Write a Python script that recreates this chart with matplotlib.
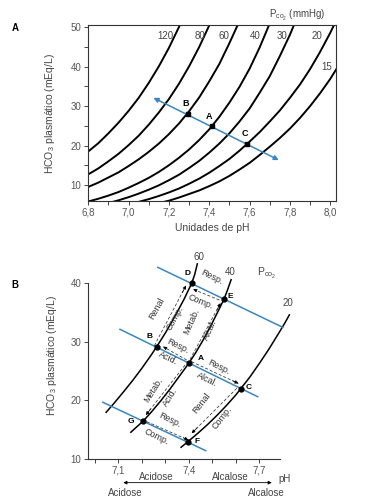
import numpy as np
import matplotlib
matplotlib.use('Agg')
import matplotlib.pyplot as plt
from matplotlib.ticker import FixedLocator, FixedFormatter

plt.rcParams['font.family'] = ['Liberation Sans', 'DejaVu Sans']
plt.rcParams['mathtext.fontset'] = 'custom'
plt.rcParams['mathtext.rm'] = 'Liberation Sans'
plt.rcParams['mathtext.it'] = 'Liberation Sans:italic'
plt.rcParams['mathtext.bf'] = 'Liberation Sans:bold'

nan = np.nan

# ---- panel A: Pco2 isobars, HCO3 every 0.05 pH ----
ph_a = [6.80, 6.85, 6.90, 6.95, 7.00, 7.05, 7.10, 7.15, 7.20, 7.25, 7.30, 7.35, 7.40,
        7.45, 7.50, 7.55, 7.60, 7.65, 7.70, 7.75, 7.80, 7.85, 7.90, 7.95, 8.00, 8.05]
pco2_a = ['120', '80', '60', '40', '30', '20', '15']
hco3_120 = [18.5, 20.6, 23.1, 25.8, 28.8, 32.1, 35.9, 40.1, 44.8, 50.1, 56.3] + [nan] * 15
hco3_80 = [12.7, 14.2, 16.0, 17.9, 20.1, 22.5, 25.3, 28.4, 31.8, 35.7, 40.1, 45.0, 50.5,
           56.6] + [nan] * 12
hco3_60 = [9.5, 10.6, 11.9, 13.2, 14.8, 16.5, 18.4, 20.5, 22.9, 25.6, 28.7, 32.2, 36.3,
           40.7, 46.0, 51.6] + [nan] * 10
hco3_40 = [5.8, 6.5, 7.3, 8.2, 9.3, 10.5, 11.8, 13.3, 15.0, 16.9, 19.0, 21.4, 24.1, 27.3,
           30.9, 34.9, 39.5, 44.9, 51.0] + [nan] * 7
hco3_30 = [nan] * 2 + [5.4, 6.1, 6.9, 7.8, 8.8, 9.9, 11.2, 12.6, 14.3, 16.1, 18.2, 20.5,
                       23.1, 26.1, 29.4, 33.4, 37.6, 42.7, 48.1, 54.3] + [nan] * 4
hco3_20 = [nan] * 5 + [5.7, 6.4, 7.2, 8.1, 9.1, 10.3, 11.6, 13.1, 14.8, 16.6, 18.7, 21.0,
                       23.4, 26.1, 28.9, 32.1, 35.5, 39.4, 43.8, 48.6, 53.9]
hco3_15 = [nan] * 7 + [5.4, 6.0, 6.8, 7.7, 8.6, 9.7, 10.9, 12.3, 13.9, 15.6, 17.6, 19.7,
                       21.9, 24.3, 27.0, 30.0, 33.3, 36.9, 41.0]
curves_a = [hco3_120, hco3_80, hco3_60, hco3_40, hco3_30, hco3_20, hco3_15]

pts_a_names = ['B', 'A', 'C']
pts_a_ph = [7.294, 7.414, 7.588]
pts_a_hco3 = [28.0, 24.9, 20.4]
line_a_ph = [7.123, 7.745]
line_a_hco3 = [32.1, 16.3]

# ---- panel B: schematic ----
ph_b60 = [7.048, 7.08, 7.12, 7.16, 7.20, 7.24, 7.263, 7.30, 7.34, 7.38, 7.412, 7.425, 7.436]
hco3_b60 = [17.97, 19.44, 21.36, 23.36, 25.48, 27.76, 29.16, 31.5, 34.3, 37.3, 39.98, 41.5, 43.3]
ph_b40 = [7.153, 7.18, 7.206, 7.24, 7.28, 7.32, 7.36, 7.40, 7.43, 7.46, 7.49, 7.52, 7.55,
          7.565, 7.58]
hco3_b40 = [14.56, 15.55, 16.48, 18.0, 19.9, 21.95, 24.15, 26.35, 28.2, 30.25, 32.45, 34.85,
            37.3, 38.9, 40.6]
ph_b20 = [7.367, 7.395, 7.44, 7.48, 7.52, 7.56, 7.60, 7.621, 7.66, 7.70, 7.74, 7.78, 7.81, 7.828]
hco3_b20 = [12.0, 12.92, 14.45, 15.89, 17.45, 19.13, 20.93, 22.0, 24.0, 26.3, 28.7, 31.3,
            33.3, 34.6]

blue_b_ph = [(7.268, 7.80), (7.107, 7.693), (7.034, 7.472)]
blue_b_hco3 = [(42.71, 32.47), (32.13, 20.63), (19.68, 11.42)]

pts_b_names = ['D', 'E', 'B', 'A', 'C', 'G', 'F']
pts_b_ph = [7.412, 7.550, 7.263, 7.400, 7.621, 7.206, 7.395]
pts_b_hco3 = [39.98, 37.25, 29.16, 26.33, 22.0, 16.48, 12.95]

# dashed transitions (start -> end)
arrows_b = [((7.253, 29.33), (7.388, 39.6)),
            ((7.530, 37.13), (7.419, 38.96)),
            ((7.405, 27.0), (7.535, 36.6)),
            ((7.391, 26.89), (7.291, 29.16)),
            ((7.412, 26.6), (7.611, 22.9)),
            ((7.384, 26.04), (7.217, 17.5)),
            ((7.221, 16.37), (7.398, 13.24)),
            ((7.604, 22.06), (7.412, 14.39))]

blue = '#3a86bf'
grey = '#555555'

fig = plt.figure(figsize=(3.67, 5.03), dpi=100)

# ================= panel A =================
ax = fig.add_axes([0.2406, 0.601, 0.6736, 0.3487])
for h in curves_a:
    ax.plot(ph_a, h, color='k', lw=1.4, solid_joinstyle='round')
ax.set_xlim(6.8, 8.026)
ax.set_ylim(6, 50.5)

xt = [6.8, 7.0, 7.2, 7.4, 7.6, 7.8, 8.0]
ax.xaxis.set_major_locator(FixedLocator(xt))
ax.xaxis.set_major_formatter(FixedFormatter([('%.1f' % v).replace('.', ',') for v in xt]))
ax.xaxis.set_minor_locator(FixedLocator([6.9, 7.1, 7.3, 7.5, 7.7, 7.9]))
ax.yaxis.set_major_locator(FixedLocator([10, 20, 30, 40, 50]))
ax.yaxis.set_minor_locator(FixedLocator([15, 25, 35, 45]))
ax.tick_params(which='both', direction='out', length=3, width=0.7, color='#444',
               labelsize=7, labelcolor=grey, pad=2)
for s in ax.spines.values():
    s.set_linewidth(0.8)
    s.set_color('#333')

ax.annotate('', xy=(line_a_ph[1], line_a_hco3[1]), xytext=(line_a_ph[0], line_a_hco3[0]),
            arrowprops=dict(arrowstyle='<|-|>', color=blue, lw=1.1, mutation_scale=7,
                            shrinkA=0, shrinkB=0))
ax.plot(pts_a_ph, pts_a_hco3, 's', color='k', ms=3.2, zorder=5)
for n, x, y in zip(pts_a_names, pts_a_ph, pts_a_hco3):
    ax.annotate(n, (x, y), xytext=(-2, 7.2), textcoords='offset points', ha='center',
                va='center', fontsize=6.5, fontweight='bold')

lab_pos_a = [(7.18, 47.9), (7.352, 47.9), (7.475, 47.9), (7.629, 47.9),
             (7.762, 47.9), (7.936, 47.9), (7.982, 39.9)]
for t, (x, y) in zip(pco2_a, lab_pos_a):
    ax.text(x, y, t, fontsize=7, color='#444', ha='center', va='center')
ax.text(7.694, 53.0, r'P$_{\mathregular{co}_2}$ (mmHg)', fontsize=7, color='#444',
        ha='left', va='center')
ax.set_xlabel('Unidades de pH', fontsize=7.5, color='#444', labelpad=4)
ax.set_ylabel(r'HCO$_3$ plasmático (mEq/L)', fontsize=7.5, color='#444', labelpad=10)
fig.text(15 / 367, 1 - 28 / 503, 'A', fontsize=7, fontweight='bold', ha='center', va='center')

# ================= panel B =================
bx = fig.add_axes([0.2406, 0.0875, 0.5223, 0.4135])
bx.set_xlim(6.972, 7.788)
bx.set_ylim(10, 45.5)
for ph, h in [(ph_b60, hco3_b60), (ph_b40, hco3_b40), (ph_b20, hco3_b20)]:
    bx.plot(ph, h, color='k', lw=1.1, clip_on=False, solid_joinstyle='round')
for px, py in zip(blue_b_ph, blue_b_hco3):
    bx.plot(px, py, color=blue, lw=1.1, clip_on=False)

for (x0, y0), (x1, y1) in arrows_b:
    bx.plot([x0, x1], [y0, y1], color='#333', lw=0.55, dashes=(4, 2.5))
    bx.annotate('', xy=(x1, y1), xytext=(x1 - 0.12 * (x1 - x0), y1 - 0.12 * (y1 - y0)),
                arrowprops=dict(arrowstyle='-|>', color='k', lw=0.5, mutation_scale=5,
                                shrinkA=0, shrinkB=0))

bx.plot(pts_b_ph, pts_b_hco3, 'o', color='k', ms=3.5, zorder=5)
offs_b = [(-2.9, 7.2), (4.3, 1.9), (-5.3, 7.7), (8.9, 3.6), (5.5, 1.2), (-9.1, -0.5), (6.5, 0)]
for n, x, y, o in zip(pts_b_names, pts_b_ph, pts_b_hco3, offs_b):
    bx.annotate(n, (x, y), xytext=o, textcoords='offset points', ha='center',
                va='center', fontsize=6, fontweight='bold')

texts_b = [('Renal', 7.263, 35.72, 61), ('Comp.', 7.341, 34.01, 61),
           ('Resp.', 7.497, 41.11, -26), ('Comp.', 7.448, 36.84, -22),
           ('Metab.', 7.412, 33.43, 66), ('Alcal.', 7.490, 32.01, 66),
           ('Resp.', 7.355, 29.28, -26), ('Acid.', 7.313, 27.18, -26),
           ('Resp.', 7.526, 25.75, -26), ('Alcal.', 7.476, 23.48, -26),
           ('Metab.', 7.249, 21.77, 58), ('Acid.', 7.320, 20.63, 58),
           ('Renal', 7.455, 19.51, 52), ('Comp.', 7.540, 16.95, 52),
           ('Resp.', 7.320, 16.66, -26), ('Comp.', 7.263, 13.81, -26)]
for t, x, y, r in texts_b:
    bx.text(x, y, t, fontsize=6.5, color='#333', rotation=r, ha='center', va='center',
            rotation_mode='anchor')

for t, x, y in [('60', 7.445, 44.42), ('40', 7.575, 41.96), ('20', 7.823, 36.57)]:
    bx.text(x, y, t, fontsize=7, color='#444', ha='center', va='center')
bx.text(7.731, 41.69, r'P$_{\mathregular{co}_2}$', fontsize=7.5, color='#444',
        ha='center', va='center')

for s in ['top', 'right']:
    bx.spines[s].set_visible(False)
bx.spines['left'].set_bounds(10, 40)
for s in ['left', 'bottom']:
    bx.spines[s].set_linewidth(0.8)
    bx.spines[s].set_color('#333')
bx.xaxis.set_major_locator(FixedLocator([7.1, 7.4, 7.7]))
bx.xaxis.set_major_formatter(FixedFormatter(['7,1', '7,4', '7,7']))
bx.xaxis.set_minor_locator(FixedLocator([7.0, 7.2, 7.3, 7.5, 7.6]))
bx.yaxis.set_major_locator(FixedLocator([10, 20, 30, 40]))
bx.tick_params(which='both', direction='out', length=3, width=0.7, color='#444',
               labelsize=7, labelcolor=grey, pad=2)
bx.set_ylabel(r'HCO$_3$ plasmático (mEq/L)', fontsize=7.5, color='#444', labelpad=8)

bx.text(7.263, 6.88, 'Acidose', fontsize=7, color='#444', ha='center', va='center', clip_on=False)
bx.text(7.575, 6.88, 'Alcalose', fontsize=7, color='#444', ha='center', va='center', clip_on=False)
bx.annotate('', xy=(7.753, 5.96), xytext=(7.121, 5.96), annotation_clip=False,
            arrowprops=dict(arrowstyle='<|-|>', color='k', lw=0.6, mutation_scale=5,
                            shrinkA=0, shrinkB=0))
bx.text(7.809, 6.54, 'pH', fontsize=7, color='#444', ha='center', va='center', clip_on=False)
bx.text(7.129, 4.25, 'Acidose', fontsize=7, color='#444', ha='center', va='center', clip_on=False)
bx.text(7.731, 4.25, 'Alcalose', fontsize=7, color='#444', ha='center', va='center', clip_on=False)
fig.text(15 / 367, 1 - 285 / 503, 'B', fontsize=7, fontweight='bold', ha='center', va='center')

fig.savefig('out.png', dpi=100)
